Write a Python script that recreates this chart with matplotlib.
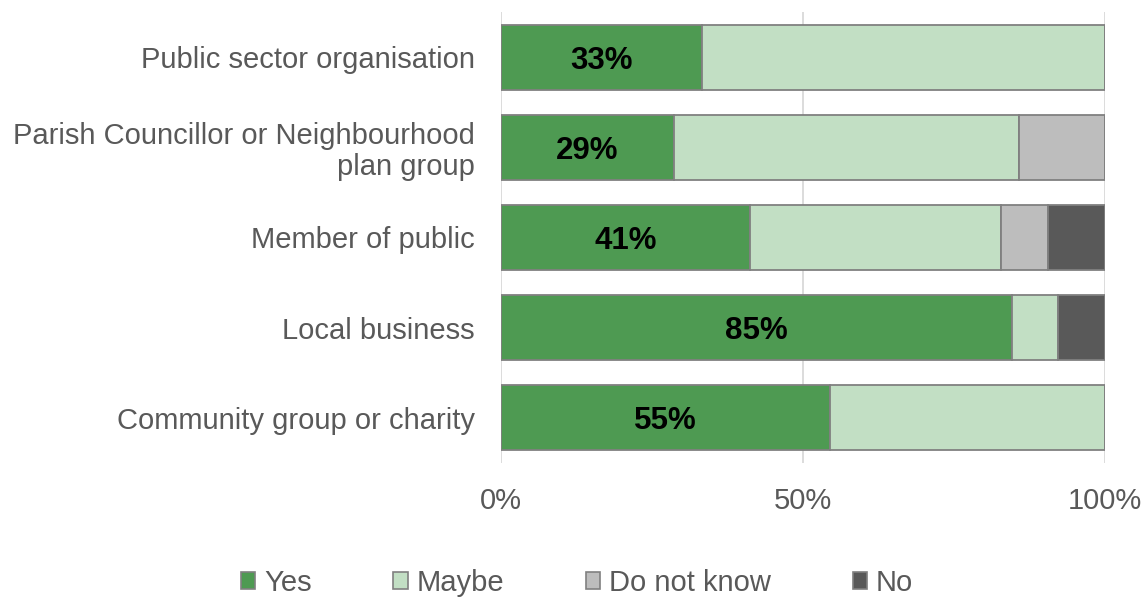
import matplotlib
matplotlib.use("Agg")
import matplotlib.pyplot as plt
from matplotlib.patches import Patch
import numpy as np

plt.rcParams['font.family'] = ['Liberation Sans', 'DejaVu Sans']

categories = [
    "Public sector organisation",
    "Parish Councillor or Neighbourhood\nplan group",
    "Member of public",
    "Local business",
    "Community group or charity",
]
series_names = ["Yes", "Maybe", "Do not know", "No"]
yes = [33.3, 28.6, 41.3, 84.6, 54.5]
maybe = [66.7, 57.1, 41.4, 7.7, 45.5]
dont_know = [0.0, 14.3, 7.8, 0.0, 0.0]
no = [0.0, 0.0, 9.5, 7.7, 0.0]
yes_labels = ["33%", "29%", "41%", "85%", "55%"]
x_ticks = [0, 50, 100]
x_tick_labels = ["0%", "50%", "100%"]

colors = ["#4E9A52", "#C2DFC4", "#BDBDBD", "#595959"]
edge = "#808080"
text_gray = "#595959"

fig = plt.figure(figsize=(11.45, 5.97), dpi=100)
ax = fig.add_axes([501 / 1145, 1 - 463 / 597, 604 / 1145, 451 / 597])

ypos = np.arange(len(categories))
left = np.zeros(len(categories))
for vals, col in zip([yes, maybe, dont_know, no], colors):
    v = np.array(vals)
    ax.barh(ypos, v, left=left, height=0.72, color=col, edgecolor=edge,
            linewidth=1.3, zorder=3)
    left += v

for y, v, lab in zip(ypos, yes, yes_labels):
    ax.text(v / 2, y, lab, ha="center", va="center_baseline", fontsize=22.5,
            fontweight="bold", color="black", zorder=4)

ax.set_xlim(0, 100)
ax.set_ylim(len(categories) - 0.5, -0.5)
ax.set_yticks(ypos)
ax.set_yticklabels(categories, fontsize=21, color=text_gray, linespacing=1.12)
ax.set_xticks(x_ticks)
ax.set_xticklabels(x_tick_labels, fontsize=21, color=text_gray)
ax.tick_params(axis="y", length=0, pad=19)
ax.tick_params(axis="x", length=0, pad=17)
ax.grid(axis="x", color="#D9D9D9", linewidth=1.3, zorder=0)
for s in ax.spines.values():
    s.set_visible(False)

handles = [Patch(facecolor=c, edgecolor=edge, linewidth=1.2) for c in colors]
fig.legend(handles, series_names, loc="center", bbox_to_anchor=(577 / 1145, 1 - 583 / 597),
           ncol=4, frameon=False, fontsize=21, handlelength=0.5, handleheight=0.5,
           handletextpad=0.3, columnspacing=2.8, labelcolor=text_gray)

fig.savefig("out.png", dpi=100)
